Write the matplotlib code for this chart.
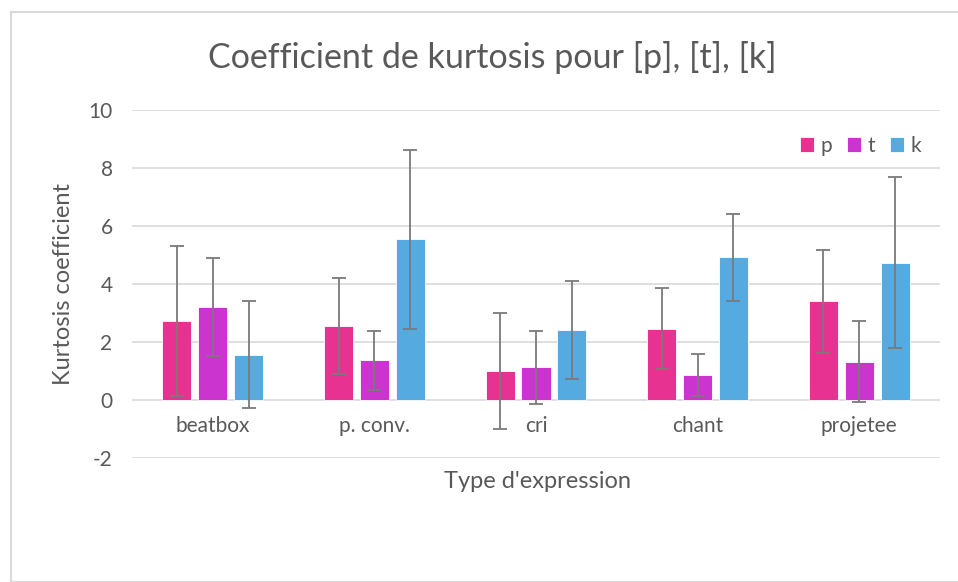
"""Coefficient de kurtosis pour [p], [t], [k] by expression type (Excel-style bars)."""

import matplotlib

matplotlib.use("Agg")
import matplotlib.pyplot as plt  # noqa: E402
import numpy as np  # noqa: E402
from matplotlib.patches import Rectangle  # noqa: E402

categories = ["beatbox", "p. conv.", "cri", "chant", "projetee"]
series = ["p", "t", "k"]

kurt_p = [2.71, 2.54, 0.99, 2.45, 3.39]
kurt_t = [3.21, 1.35, 1.11, 0.85, 1.30]
kurt_k = [1.55, 5.53, 2.40, 4.91, 4.72]

err_p = [2.60, 1.67, 2.00, 1.40, 1.78]
err_t = [1.69, 1.02, 1.27, 0.72, 1.40]
err_k = [1.85, 3.10, 1.70, 1.50, 2.95]

yticks = [-2, 0, 2, 4, 6, 8, 10]

C_P = "#E83291"
C_T = "#CB34CF"
C_K = "#55ABDF"
TEXT = "#595959"
GRID = "#D9D9D9"

plt.rcParams["font.family"] = ["Lato", "DejaVu Sans"]

fig = plt.figure(figsize=(9.58, 5.82), dpi=100)
fig.patches.append(Rectangle((11 / 958, 0), 1, 1 - 12 / 582, transform=fig.transFigure,
                             fill=False, edgecolor=GRID, linewidth=1.5))

ax = fig.add_axes([132 / 958, 1 - 457.5 / 582, 808 / 958, 347.5 / 582])

x = np.arange(len(categories))
width = 0.18
step = 0.222
vals = [kurt_p, kurt_t, kurt_k]
errs = [err_p, err_t, err_k]
colors = [C_P, C_T, C_K]
for i, (name, v, e, c) in enumerate(zip(series, vals, errs, colors)):
    ax.bar(x + (i - 1) * step, v, width=width, color=c, edgecolor="white",
           linewidth=0.6, label=name, zorder=3,
           yerr=e, error_kw=dict(ecolor="#7A7A7A", elinewidth=1.3, capsize=4.8,
                                 capthick=1.3, zorder=4))

# category labels sit right under the zero line, as in Excel
ax.spines["bottom"].set_position(("data", 0))
ax.set_xlim(-0.5, len(categories) - 0.5)
ax.set_ylim(-2, 10)
ax.set_yticks(yticks)
ax.set_yticklabels([str(t) for t in yticks])
ax.set_xticks(x)
ax.set_xticklabels(categories)
ax.tick_params(axis="both", length=0, labelsize=15, labelcolor=TEXT)
ax.tick_params(axis="y", pad=14)
ax.tick_params(axis="x", pad=12)
ax.yaxis.grid(True, color=GRID, linewidth=1.2, zorder=0)
ax.set_axisbelow(True)
for spine in ax.spines.values():
    spine.set_visible(False)

ax.set_ylabel("Kurtosis coefficient", fontsize=17, color=TEXT, labelpad=10)
fig.text(538 / 958, 1 - 481 / 582, "Type d'expression", ha="center", va="center",
         fontsize=17, color=TEXT)
fig.text(492 / 958, 1 - 57 / 582, "Coefficient de kurtosis pour [p], [t], [k]", ha="center",
         va="center", fontsize=24.5, color=TEXT)

leg = ax.legend(loc="upper right", bbox_to_anchor=(1.0, 0.98), ncol=3, frameon=False,
                fontsize=15, handlelength=0.7, handleheight=0.7, handletextpad=0.3,
                columnspacing=0.7)
for t in leg.get_texts():
    t.set_color(TEXT)

fig.savefig("out.png", dpi=100)
